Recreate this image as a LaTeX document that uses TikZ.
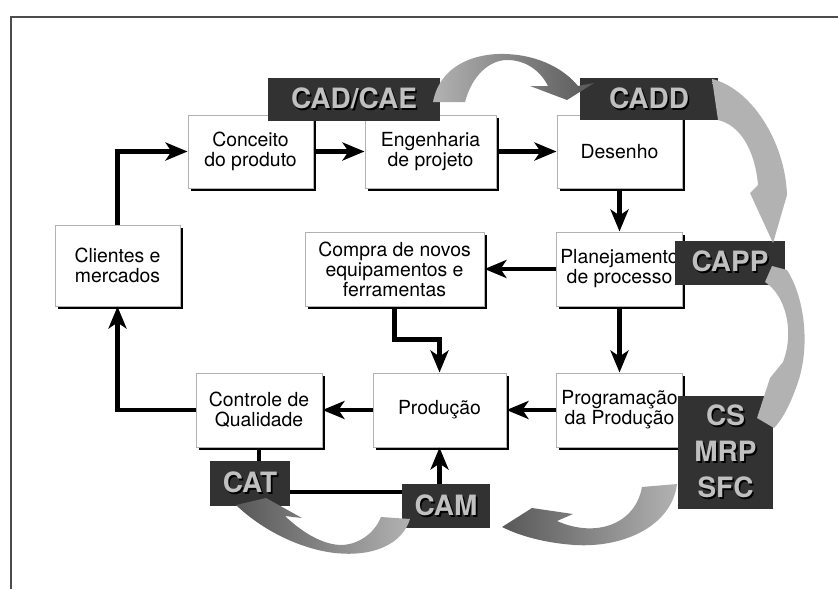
\documentclass[tikz,border=0pt]{standalone}
\usepackage{fontspec}
\setmainfont{TeX Gyre Heros}
\usetikzlibrary{arrows.meta,shadows,calc}

\definecolor{darkbox}{RGB}{50,50,50}
\definecolor{labelgray}{RGB}{192,192,192}
\definecolor{ribbonlight}{RGB}{178,178,178}
\definecolor{ribbonmid}{RGB}{112,112,112}
\definecolor{ribbondark}{RGB}{88,88,88}

\newcommand{\shadowed}[1]{\leavevmode\rlap{\hspace{0.8pt}\raisebox{-0.8pt}{\textcolor{black}{#1}}}\textcolor{labelgray}{#1}}

\tikzset{
  block/.style={draw=gray!60, line width=0.5pt, fill=white, align=center,
    inner sep=1pt, font=\fontsize{9.7}{10}\selectfont,
    drop shadow={shadow xshift=1.3pt, shadow yshift=-1.3pt, fill=black, opacity=1}},
  tool/.style={fill=darkbox, inner sep=0pt, align=center,
    font=\fontsize{14}{18}\selectfont\bfseries},
  flow/.style={line width=2.1pt, -{Stealth[length=11pt,width=9pt,inset=3pt]}},
  link/.style={line width=2.1pt},
  ribbon right/.style={left color=ribbonlight, right color=ribbondark},
  ribbon left/.style={left color=ribbondark, right color=ribbonlight},
  ribbon down/.style={top color=ribbonlight, middle color=ribbonmid, bottom color=ribbonlight},
  frame/.style={line width=0.6pt, gray!60!black}
}

\begin{document}
\begin{tikzpicture}[x=0.5pt, y=-0.5pt]
\useasboundingbox (0,0) rectangle (838,589);
\draw[frame] (11,589) -- (11,17) -- (838,17);

% process blocks
\node[block, minimum width=62.5pt, minimum height=36.5pt] (conceito) at (250.5,151.5) {Conceito\\do produto};
\node[block, minimum width=65.5pt, minimum height=36.5pt] (engenharia) at (430.5,151.5) {Engenharia\\de projeto};
\node[block, minimum width=62.5pt, minimum height=36.5pt] (desenho) at (619.5,151.5) {Desenho};
\node[block, minimum width=62.5pt, minimum height=40.5pt] (clientes) at (117.5,265.5) {Clientes e\\mercados};
\node[block, minimum width=89.5pt, minimum height=37pt] (compra) at (394.5,269) {Compra de novos\\equipamentos e\\ferramentas};
\node[block, minimum width=63pt, minimum height=37pt] (planejamento) at (619.5,269) {Planejamento\\de processo};
\node[block, minimum width=63pt, minimum height=37pt] (controle) at (259,410) {Controle de\\Qualidade};
\node[block, minimum width=66.5pt, minimum height=37pt] (producao) at (439.5,410) {Produção};
\node[block, minimum width=63pt, minimum height=37pt] (programacao) at (619.5,410) {Programação\\da Produção};

% computer aids
\node[tool, minimum width=86pt, minimum height=21.5pt] (cadcae) at (354,99.5) {\shadowed{CAD/CAE}};
\node[tool, minimum width=69pt, minimum height=21pt] (cadd) at (649,99) {\shadowed{CADD}};
\node[tool, minimum width=55pt, minimum height=22pt] (capp) at (730,262.5) {\shadowed{CAPP}};
\node[tool, minimum width=47.5pt, minimum height=56.5pt] (csmrp) at (725.5,452.5) {\shadowed{CS}\\\shadowed{MRP}\\\shadowed{SFC}};
\node[tool, minimum width=40pt, minimum height=22.5pt] (cat) at (250,483.5) {\shadowed{CAT}};
\node[tool, minimum width=44pt, minimum height=22pt] (cam) at (446,506) {\shadowed{CAM}};
\coordinate (toolbus) at (330,492);

% flow
\draw[flow] (clientes.north) |- (conceito.west);
\draw[flow] (conceito.east) -- (engenharia.west);
\draw[flow] (engenharia.east) -- (desenho.west);
\draw[flow] (desenho.south) -- (planejamento.north);
\draw[flow] (planejamento.west) -- (compra.east);
\draw[flow] (compra.south) |- ($(compra.south)!0.5!(producao.north)$) -| (producao.north);
\draw[flow] (planejamento.south) -- (programacao.north);
\draw[flow] (programacao.west) -- (producao.east);
\draw[flow] (producao.west) -- (controle.east);
\draw[flow] (controle.west) -| (clientes.south);
\draw[link] (controle.south) -- (controle.south |- cat.north);
\draw[link] (cat.east |- toolbus) -- (cam.west |- toolbus);
\draw[flow] (producao.south |- cam.north) -- (producao.south);

% gray ribbons
\shade[ribbon right] (433,102) .. controls (440,65) and (475,53) .. (505,54) .. controls (540,55) and (565,70) .. (578,86)
  -- (594,83) -- (567,100) -- (530,86) -- (548,86) .. controls (540,70) and (525,60) .. (507,60)
  .. controls (490,60) and (472,75) .. (465,102) -- cycle;
\shade[ribbon down] (712,79) .. controls (750,88) and (785,140) .. (787,195) -- (773,243) -- (750,193) -- (758,185)
  .. controls (755,150) and (740,125) .. (718,120) -- cycle;
\shade[ribbon down] (772,266) -- (787,270) .. controls (806,300) and (810,350) .. (797,385) .. controls (790,405) and (782,420) .. (774,428)
  -- (757,418) -- (770,378) -- (783,362) .. controls (795,330) and (785,295) .. (765,282) -- cycle;
\shade[ribbon left] (642,487) -- (677,484) .. controls (672,525) and (625,548) .. (575,545) .. controls (545,543) and (520,536) .. (502,527)
  -- (532,508) -- (573,514) -- (557,521) .. controls (595,538) and (635,525) .. (642,487) -- cycle;
\shade[ribbon left] (381,517) -- (410,519) .. controls (402,545) and (372,557) .. (335,553) .. controls (300,549) and (262,530) .. (236,505)
  -- (266,498) -- (302,518) -- (285,516) .. controls (305,535) and (325,545) .. (342,545) .. controls (362,544) and (376,530) .. (381,517) -- cycle;
\end{tikzpicture}
\end{document}
